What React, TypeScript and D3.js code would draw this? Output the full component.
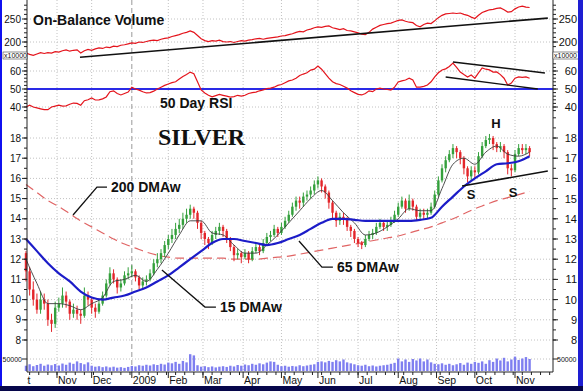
import * as d3 from "d3"
import { useEffect, useRef } from "react"

// sessions counted from Thu Oct 9 2008, one bar for every 2 sessions
const closes = [
  11.4, 10.5, 10.0, 9.5, 10.0, 9.8, 9.0, 8.8, 9.6, 9.8,
  10.2, 9.9, 9.3, 9.5, 9.3, 9.2, 10.2, 10.0, 9.6, 9.4,
  9.8, 10.2, 10.8, 11.3, 11.0, 10.6, 10.8, 11.2, 11.3, 11.4,
  11.1, 10.7, 10.9, 11.0, 11.3, 11.8, 12.0, 12.3, 12.7, 13.0,
  13.2, 13.5, 13.7, 14.0, 14.2, 14.5, 14.3, 13.8, 13.3, 13.0,
  12.8, 13.2, 13.4, 13.6, 13.4, 13.0, 12.6, 12.2, 12.3, 12.1,
  12.3, 12.0, 12.4, 12.6, 12.4, 12.8, 13.1, 13.2, 13.5, 13.3,
  13.6, 13.9, 14.2, 14.6, 14.9, 14.8, 15.1, 15.2, 15.4, 15.7,
  15.9, 15.6, 15.3, 14.8, 14.3, 13.9, 14.1, 14.0, 13.6, 13.4,
  13.0, 12.8, 12.7, 13.0, 13.2, 13.3, 13.6, 13.8, 13.6, 13.7,
  13.9, 14.2, 14.6, 14.9, 14.5, 14.9, 14.6, 14.1, 14.3, 14.2,
  14.3, 14.6, 15.2, 15.9, 16.5, 16.9, 17.2, 17.5, 17.3, 17.0,
  16.5, 16.1, 16.4, 16.3, 17.1, 17.6, 17.9, 18.0, 17.7, 17.5,
  17.6, 17.3, 16.5, 16.4, 17.2, 17.5, 17.4, 17.5, 17.3,
]
const firstOpen = 12.3
const highs = [
  12.4, 11.6, 10.9, 10.3, 10.4, 10.3, 10.0, 9.3, 9.9, 10.1,
  10.6, 10.4, 10.0, 9.8, 9.7, 9.5, 10.6, 10.4, 10.1, 9.8,
  10.0, 10.4, 11.0, 11.6, 11.5, 11.1, 11.0, 11.4, 11.6, 11.7,
  11.5, 11.2, 11.1, 11.2, 11.5, 12.0, 12.3, 12.5, 12.9, 13.2,
  13.5, 13.8, 14.0, 14.3, 14.5, 14.7, 14.6, 14.4, 13.9, 13.4,
  13.1, 13.4, 13.6, 13.8, 13.7, 13.5, 13.1, 12.7, 12.5, 12.4,
  12.5, 12.4, 12.6, 12.8, 12.7, 13.0, 13.3, 13.4, 13.7, 13.6,
  13.8, 14.1, 14.4, 14.8, 15.1, 15.1, 15.3, 15.4, 15.6, 15.9,
  16.1, 16.0, 15.7, 15.4, 14.9, 14.4, 14.3, 14.3, 14.1, 13.7,
  13.5, 13.1, 12.9, 13.2, 13.4, 13.5, 13.8, 14.0, 13.9, 13.9,
  14.1, 14.4, 14.8, 15.1, 15.0, 15.2, 15.0, 14.7, 14.5, 14.5,
  14.5, 14.8, 15.4, 16.1, 16.7, 17.1, 17.4, 17.7, 17.6, 17.4,
  17.1, 16.6, 16.6, 16.6, 17.3, 17.8, 18.1, 18.2, 18.1, 17.8,
  17.8, 17.7, 17.4, 16.7, 17.4, 17.7, 17.7, 17.7, 17.6,
]
const lows = [
  10.9, 10.2, 9.7, 9.3, 9.3, 9.5, 8.7, 8.4, 8.6, 9.4,
  9.6, 9.6, 9.0, 9.1, 9.0, 8.8, 9.1, 9.7, 9.3, 9.1,
  9.3, 9.7, 10.1, 10.7, 10.8, 10.3, 10.4, 10.7, 11.0, 11.1,
  10.9, 10.5, 10.5, 10.7, 10.9, 11.2, 11.6, 11.8, 12.1, 12.5,
  12.8, 13.0, 13.3, 13.5, 13.8, 14.0, 14.0, 13.5, 13.0, 12.7,
  12.5, 12.7, 13.0, 13.2, 13.1, 12.8, 12.4, 11.9, 12.0, 11.8,
  12.0, 11.8, 11.9, 12.3, 12.2, 12.3, 12.7, 12.9, 13.1, 13.1,
  13.2, 13.5, 13.8, 14.1, 14.4, 14.5, 14.6, 14.9, 15.0, 15.2,
  15.5, 15.3, 15.0, 14.5, 14.0, 13.6, 13.7, 13.7, 13.4, 13.1,
  12.8, 12.6, 12.5, 12.6, 12.9, 13.0, 13.2, 13.5, 13.4, 13.4,
  13.6, 13.8, 14.1, 14.5, 14.3, 14.4, 14.4, 13.9, 14.0, 14.0,
  14.0, 14.2, 14.5, 15.1, 15.8, 16.3, 16.8, 17.0, 17.0, 16.7,
  16.2, 15.8, 15.9, 16.0, 16.2, 17.0, 17.5, 17.7, 17.4, 17.3,
  17.3, 17.0, 16.2, 16.1, 16.3, 17.1, 17.2, 17.2, 17.1,
]

// on-balance volume, x10000
const obvValues = [
  176, 173, 171, 174, 177, 175, 177, 176, 179, 178,
  181, 183, 180, 182, 183, 176, 181, 184, 182, 185,
  187, 186, 189, 188, 191, 190, 193, 194, 196, 198,
  197, 200, 199, 201, 203, 204, 203, 206, 208, 209,
  212, 214, 216, 219, 221, 224, 221, 214, 207, 203,
  201, 203, 202, 204, 201, 200, 201, 199, 201, 203,
  202, 204, 205, 207, 208, 206, 208, 209, 210, 211,
  213, 214, 216, 218, 221, 223, 222, 226, 228, 231,
  233, 232, 234, 235, 231, 229, 227, 229, 225, 224,
  222, 220, 217, 216, 221, 228, 232, 236, 238, 240,
  241, 244, 247, 248, 245, 243, 242, 236, 233, 238,
  241, 240, 246, 253, 258, 261, 262, 263, 262, 263,
  260, 258, 254, 251, 258, 264, 267, 270, 271, 273,
  274, 270, 265, 266, 272, 276, 278, 276, 275,
]

const rsiValues = [
  40, 41, 40, 39.5, 39, 38.5, 38.5, 40, 40.5, 41,
  40.5, 40.6, 41.5, 42.2, 42, 41, 43.5, 44, 45, 43.9,
  44, 44.5, 45.6, 48.5, 49, 47.5, 46.7, 47.5, 48.3, 51,
  50, 49.4, 48.5, 47.8, 48, 48.8, 50, 51, 52, 52.8,
  53.5, 54, 55.5, 57, 58, 59.4, 58.5, 54, 49.5, 47.8,
  46.5, 45.6, 46.3, 47, 46.5, 46, 45.5, 45.8, 46.5, 46,
  46.5, 47.5, 48, 48.3, 49, 49.5, 50.2, 50.5, 51, 52,
  52.5, 53.5, 54.5, 55, 56, 57.5, 58.3, 59, 60.5, 61,
  62.8, 61, 58.5, 56, 54, 53, 52.5, 51.5, 50.5, 49,
  48, 47, 46.7, 47.5, 49, 48.5, 50, 50.5, 50, 49.8,
  49.4, 51, 53.9, 54.5, 55, 56, 55, 51, 51, 51.5,
  52.2, 54, 56.7, 59, 60.6, 61.2, 62.5, 64.4, 62, 59.4,
  58, 56.7, 57.8, 56, 59, 61.7, 61, 60.6, 59.4, 59.5,
  58, 56, 52.2, 53.3, 56, 56.7, 56.5, 56.7, 56,
]

// volume, thousands
const volumes = [
  22, 28, 20, 25, 30, 22, 27, 24, 29, 23, 31, 26, 35, 30, 40, 33,
  28, 36, 22, 18, 20, 16, 19, 15, 18, 14,
  16, 13, 17, 21, 19, 24, 22, 26, 23, 28,
  25, 30, 27, 35, 32, 38, 30, 42, 36, 70, 65,
  24, 18, 20, 16, 19, 15, 18, 20, 17, 22, 19,
  25, 22, 27, 24, 30, 26, 32, 28, 35, 40, 38,
  26, 20, 22, 18, 21, 19, 24, 20, 23, 26, 28,
  38, 40, 36, 42, 38, 45, 40, 48, 36, 32, 28,
  24, 22, 26, 20, 23, 19, 22, 24, 26, 30, 34,
  52, 40, 48, 38, 50, 44, 52, 40, 48, 36, 30,
  28, 32, 26, 30, 24, 28, 33, 26, 35, 30, 38,
  34, 40, 30, 45, 38, 52, 44, 55, 40, 48,
  60, 46, 52, 58, 50,
]

// moving averages, read every 6 sessions
const ma15 = [
  12.0, 10.8, 9.8, 9.8, 9.7, 9.5, 9.8, 10.1, 10.9, 11.0,
  11.2, 10.9, 11.5, 12.3, 13.2, 13.9, 13.9, 13.3, 13.2, 12.7,
  12.3, 12.3, 12.7, 13.2, 13.8, 14.4, 15.0, 15.4, 14.9, 14.3,
  13.8, 13.2, 13.3, 13.6, 14.0, 14.5, 14.4, 14.4, 15.5, 16.7,
  17.0, 16.7, 17.3, 17.6, 17.2, 17.1, 17.3,
]
const ma65 = [
  13.0, 12.4, 11.8, 11.3, 10.9, 10.4, 10.1, 10.0, 10.1, 10.2,
  10.4, 10.6, 10.9, 11.2, 11.6, 12.0, 12.4, 12.8, 13.0, 13.0,
  12.9, 12.8, 12.7, 12.8, 13.0, 13.2, 13.5, 13.8, 14.0, 14.0,
  13.95, 13.9, 13.9, 13.9, 13.9, 13.9, 13.95, 14.05, 14.6, 15.1,
  15.6, 16.0, 16.35, 16.7, 16.75, 16.85, 17.1,
]
const ma200 = [
  15.7, 15.3, 14.9, 14.6, 14.25, 13.9, 13.6, 13.3, 13.0, 12.75,
  12.55, 12.35, 12.2, 12.1, 12.05, 12.05, 12.05, 12.05, 12.05, 12.0,
  12.0, 12.0, 12.05, 12.1, 12.15, 12.25, 12.35, 12.45, 12.55, 12.65,
  12.75, 12.85, 12.95, 13.05, 13.15, 13.3, 13.45, 13.6, 13.8, 14.0,
  14.25, 14.5, 14.7, 14.9, 15.05, 15.2, 15.35,
]

const monthTicks = [-7, 17, 36, 58, 78, 97, 119, 140, 160, 182, 204, 225, 246, 268]
const monthLabels = ["Oct", "Nov", "Dec", "2009", "Feb", "Mar", "Apr", "May", "Jun", "Jul", "Aug", "Sep", "Oct", "Nov"]
const obvTicks = [200, 250]
const rsiTicks = [40, 50, 60]
const priceTicks = [8, 9, 10, 11, 12, 13, 14, 15, 16, 17, 18]

// hand drawn trend lines, [session, value]
const obvTrend = [[29.6, 167], [286, 252]]
const rsiUpper = [[234, 65], [284.4, 58.9]]
const rsiLower = [[230, 56.7], [280.5, 50]]
const neckline = [[239, 15.62], [286, 16.37]]

const SANS = "'Liberation Sans', Arial, sans-serif"

function App() {
  const ref = useRef(null)

  useEffect(() => {
    document.body.style.margin = "0"
    const svg = d3.select(ref.current)
    svg.selectAll("*").remove()

    const L = 27, R = 553, B = 372
    const x = d3.scaleLinear().domain([17, 268]).range([57, 515])
    const yObv = d3.scaleLinear().domain([200, 250]).range([42, 19])
    const yRsi = d3.scaleLinear().domain([40, 60]).range([107, 71])
    const yPrice = d3.scaleLinear().domain([8, 18]).range([340, 138])
    const yVol = d3.scaleLinear().domain([0, 50]).range([371, 359])

    svg.append("rect").attr("width", 583).attr("height", 391).attr("fill", "#fff")

    svg.append("defs").append("clipPath").attr("id", "plotclip")
      .append("rect").attr("x", L).attr("y", 0).attr("width", R - L).attr("height", 391)

    // dotted grid
    const grid = svg.append("g").attr("stroke", "#c2c2c2").attr("stroke-dasharray", "1,2")
    monthTicks.filter(t => t > 0 && t !== 58).forEach(t => {
      grid.append("line").attr("x1", x(t)).attr("x2", x(t)).attr("y1", 0).attr("y2", B)
    })
    const hLines = [
      ...obvTicks.map(yObv),
      yRsi(40), yRsi(60),
      ...priceTicks.map(yPrice),
      yVol(50),
    ]
    hLines.forEach(y => grid.append("line").attr("x1", L).attr("x2", R).attr("y1", y).attr("y2", y))

    // year divider
    svg.append("line").attr("x1", x(58)).attr("x2", x(58)).attr("y1", 0).attr("y2", B)
      .attr("stroke", "#9a9a9a").attr("stroke-dasharray", "5,3")

    // volume
    svg.append("g").selectAll("rect").data(volumes).join("rect")
      .attr("x", (d, i) => x(i * 2) - 1.2)
      .attr("width", 2.4)
      .attr("y", d => yVol(d))
      .attr("height", d => yVol(0) - yVol(d))
      .attr("fill", "#7f7ff0")

    // rsi 50 line
    svg.append("line").attr("x1", L).attr("x2", R).attr("y1", yRsi(50)).attr("y2", yRsi(50))
      .attr("stroke", "#2a2ae6").attr("stroke-width", 2)

    const obvLine = d3.line().x((d, i) => x(i * 2)).y(d => yObv(d))
    svg.append("path").attr("d", obvLine(obvValues)).attr("fill", "none")
      .attr("stroke", "#e4141c").attr("stroke-width", 1.2)

    const rsiLine = d3.line().x((d, i) => x(i * 2)).y(d => yRsi(d))
    svg.append("path").attr("d", rsiLine(rsiValues)).attr("fill", "none")
      .attr("stroke", "#e4141c").attr("stroke-width", 1.2)

    // moving averages
    const maLine = d3.line().x((d, i) => x(i * 6)).y(d => yPrice(d)).curve(d3.curveMonotoneX)
    svg.append("path").attr("d", maLine(ma200)).attr("fill", "none")
      .attr("stroke", "#e06464").attr("stroke-width", 1.2).attr("stroke-dasharray", "9,5")

    // candles
    const bars = closes.map((c, i) => ({ t: i * 2, o: i === 0 ? firstOpen : closes[i - 1], c, h: highs[i], l: lows[i] }))
    const cg = svg.append("g")
    cg.selectAll("line").data(bars).join("line")
      .attr("x1", d => x(d.t)).attr("x2", d => x(d.t))
      .attr("y1", d => yPrice(d.h)).attr("y2", d => yPrice(d.l))
      .attr("stroke", d => d.c >= d.o ? "#34a03c" : "#e3262b").attr("stroke-width", 1)
    cg.selectAll("rect").data(bars).join("rect")
      .attr("x", d => x(d.t) - 1.2)
      .attr("width", 2.4)
      .attr("y", d => yPrice(Math.max(d.o, d.c)))
      .attr("height", d => Math.max(1, Math.abs(yPrice(d.o) - yPrice(d.c))))
      .attr("fill", d => d.c >= d.o ? "#34a03c" : "#e3262b")

    svg.append("path").attr("d", maLine(ma15)).attr("fill", "none")
      .attr("stroke", "#3a3a3a").attr("stroke-width", 0.9)
    svg.append("path").attr("d", maLine(ma65)).attr("fill", "none")
      .attr("stroke", "#1c1cc8").attr("stroke-width", 2.2)

    // trend lines
    const seg = (pts, y) => d3.line().x(d => x(d[0])).y(d => y(d[1]))(pts)
    svg.append("path").attr("d", seg(obvTrend, yObv)).attr("stroke", "#111").attr("stroke-width", 1.6)
    svg.append("path").attr("d", seg(rsiUpper, yRsi)).attr("stroke", "#111").attr("stroke-width", 1.4)
    svg.append("path").attr("d", seg(rsiLower, yRsi)).attr("stroke", "#111").attr("stroke-width", 1.4)
    svg.append("path").attr("d", seg(neckline, yPrice)).attr("stroke", "#111").attr("stroke-width", 1.6)

    // labels with leaders
    const notes = [
      { text: "200 DMAw", pts: [[25.8, 14.19], [38.9, 15.57], [44.4, 15.57]] },
      { text: "15 DMAw", pts: [[74.5, 11.47], [98.1, 9.63], [104.1, 9.63]] },
      { text: "65 DMAw", pts: [[149.6, 12.9], [162.2, 11.61], [168.2, 11.61]] },
    ]
    notes.forEach(n => {
      svg.append("path").attr("d", seg(n.pts, yPrice)).attr("fill", "none")
        .attr("stroke", "#111").attr("stroke-width", 1.3)
      const last = n.pts[n.pts.length - 1]
      svg.append("text").attr("x", x(last[0]) + 4).attr("y", yPrice(last[1]) + 5)
        .attr("font-family", SANS).attr("font-size", 14).attr("font-weight", "bold")
        .attr("fill", "#111").text(n.text)
    })

    const letters = [["H", 257.6, 18.74], ["S", 243.9, 15.23], ["S", 266.9, 15.33]]
    letters.forEach(([s, t, v]) => {
      svg.append("text").attr("x", x(t)).attr("y", yPrice(v) + 5).attr("text-anchor", "middle")
        .attr("font-family", SANS).attr("font-size", 13).attr("font-weight", "bold")
        .attr("fill", "#111").text(s)
    })

    svg.append("text").attr("x", 33).attr("y", 25).attr("font-family", SANS)
      .attr("font-size", 14).attr("font-weight", "bold").attr("fill", "#111").text("On-Balance Volume")
    svg.append("text").attr("x", 160).attr("y", 108).attr("font-family", SANS)
      .attr("font-size", 14).attr("font-weight", "bold").attr("fill", "#111").text("50 Day RSI")
    svg.append("text").attr("x", 158).attr("y", 145).attr("font-family", "'Liberation Serif', 'Times New Roman', serif")
      .attr("font-size", 24).attr("font-weight", "bold").attr("fill", "#111").text("SILVER")

    // y axes
    const axes = svg.append("g").attr("stroke", "#222").attr("stroke-width", 1)
    axes.append("line").attr("x1", L).attr("x2", L).attr("y1", 0).attr("y2", B)
    axes.append("line").attr("x1", R).attr("x2", R).attr("y1", 0).attr("y2", B)
    axes.append("line").attr("x1", L).attr("x2", R).attr("y1", B).attr("y2", B)

    const minor = [
      ...d3.range(190, 290, 10).map(yObv).filter(y => y > 1 && y < 51),
      ...d3.range(36, 66, 2).map(yRsi).filter(y => y > 61 && y < 112),
      ...d3.range(7.5, 19.5, 0.5).map(yPrice).filter(y => y > 116 && y < 346),
    ]
    minor.forEach(y => {
      axes.append("line").attr("x1", L - 3).attr("x2", L).attr("y1", y).attr("y2", y)
      axes.append("line").attr("x1", R).attr("x2", R + 3).attr("y1", y).attr("y2", y)
    })

    const major = [
      ...obvTicks.map(v => [yObv(v), String(v)]),
      ...rsiTicks.map(v => [yRsi(v), String(v)]),
      ...priceTicks.map(v => [yPrice(v), String(v)]),
    ]
    major.forEach(([y, s]) => {
      axes.append("line").attr("x1", L - 5).attr("x2", L).attr("y1", y).attr("y2", y)
      axes.append("line").attr("x1", R).attr("x2", R + 5).attr("y1", y).attr("y2", y)
      svg.append("text").attr("x", 21).attr("y", y + 3.5).attr("text-anchor", "end")
        .attr("font-family", SANS).attr("font-size", 10).attr("fill", "#111").text(s)
      svg.append("text").attr("x", 577).attr("y", y + 4).attr("text-anchor", "end")
        .attr("font-family", SANS).attr("font-size", 11).attr("fill", "#111").text(s)
    })
    axes.append("line").attr("x1", L - 5).attr("x2", L).attr("y1", yVol(50)).attr("y2", yVol(50))
    axes.append("line").attr("x1", R).attr("x2", R + 5).attr("y1", yVol(50)).attr("y2", yVol(50))
    svg.append("text").attr("x", 22).attr("y", yVol(50) + 2.5).attr("text-anchor", "end")
      .attr("font-family", SANS).attr("font-size", 7).attr("fill", "#111").text("50000")
    svg.append("text").attr("x", 557).attr("y", yVol(50) + 2.5)
      .attr("font-family", SANS).attr("font-size", 7).attr("fill", "#111").text("50000")

    // x10000 boxes
    ;[[3, 24], [553, 26]].forEach(([bx, bw]) => {
      svg.append("rect").attr("x", bx).attr("y", 52).attr("width", bw).attr("height", 7)
        .attr("fill", "#fff").attr("stroke", "#444").attr("stroke-width", 0.6)
      svg.append("text").attr("x", bx + 1).attr("y", 58).attr("font-family", SANS)
        .attr("font-size", 7).attr("fill", "#111").text("x10000")
    })

    // x axis
    d3.range(2, 289, 5).forEach(t => {
      axes.append("line").attr("x1", x(t)).attr("x2", x(t)).attr("y1", B).attr("y2", B + 3)
    })
    monthTicks.filter(t => t > 0).forEach(t => {
      axes.append("line").attr("x1", x(t)).attr("x2", x(t)).attr("y1", B).attr("y2", B + 6)
    })
    svg.append("g").attr("clip-path", "url(#plotclip)").selectAll("text").data(monthTicks).join("text")
      .attr("x", d => x(d) + 1).attr("y", 384)
      .attr("font-family", SANS).attr("font-size", 10.5).attr("fill", "#111")
      .text((d, i) => monthLabels[i])

    // frame
    svg.append("rect").attr("x", 0).attr("y", 0).attr("width", 2).attr("height", 391).attr("fill", "#1010f0")
    svg.append("rect").attr("x", 578).attr("y", 0).attr("width", 5).attr("height", 391).attr("fill", "#1e1ed2")
    svg.append("rect").attr("x", 0).attr("y", 386).attr("width", 583).attr("height", 5).attr("fill", "#06064a")
  }, [])

  return <svg ref={ref} width={583} height={391} style={{ display: "block" }} />
}

export default App
